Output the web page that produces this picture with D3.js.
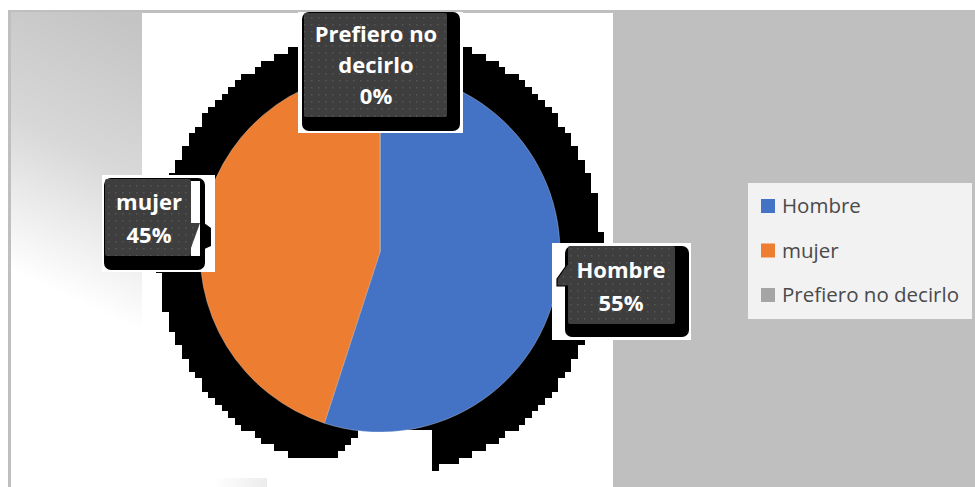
<!DOCTYPE html>
<html><head><meta charset="utf-8">
<script src="https://cdn.jsdelivr.net/npm/d3@7"></script>
<style>html,body{margin:0;padding:0;background:#fff;} svg{display:block}</style>
</head><body>
<svg id="chart" width="975" height="487"></svg>
<script>
// ---- data ----
const categories = ["Hombre", "mujer", "Prefiero no decirlo"];
const values = [55, 45, 0];
const colors = ["#4472c4", "#ed7d31", "#a5a5a5"];
const labelLines = [["Hombre"], ["mujer"], ["Prefiero no", "decirlo"]];

// ---- layout ----
const W = 975, H = 487;
const cx = 380, cy = 252, R = 180, shadowR = 222, cell = 6.6;
const svg = d3.select("#chart");
const defs = svg.append("defs");

const g1 = defs.append("linearGradient").attr("id","leftGrad")
  .attr("gradientUnits","userSpaceOnUse").attr("x1",130).attr("y1",20).attr("x2",0).attr("y2",300);
g1.append("stop").attr("offset",0).attr("stop-color","#c4c4c4");
g1.append("stop").attr("offset",0.45).attr("stop-color","#d8d8d8");
g1.append("stop").attr("offset",0.9).attr("stop-color","#ffffff");

const g2 = defs.append("linearGradient").attr("id","botGrad");
g2.append("stop").attr("offset",0).attr("stop-color","#ffffff");
g2.append("stop").attr("offset",1).attr("stop-color","#ececec");

const pat = defs.append("pattern").attr("id","dots").attr("width",7).attr("height",7)
  .attr("patternUnits","userSpaceOnUse");
pat.append("rect").attr("width",7).attr("height",7).attr("fill","#3e3e3e");
pat.append("rect").attr("x",3).attr("y",3).attr("width",1.5).attr("height",1.5).attr("fill","#555555");

// background panels
svg.append("rect").attr("x",8).attr("y",10).attr("width",W-8).attr("height",H-10).attr("fill","#bfbfbf");
svg.append("rect").attr("x",11).attr("y",12).attr("width",131).attr("height",H-12).attr("fill","url(#leftGrad)");
svg.append("rect").attr("x",142).attr("y",13).attr("width",471).attr("height",H-13).attr("fill","#ffffff");
svg.append("rect").attr("x",213).attr("y",478).attr("width",54).attr("height",9).attr("fill","url(#botGrad)");

// pixelated black shadow disk (single path, integer coordinates)
const n = Math.ceil(shadowR/cell);
let dpath = "";
d3.range(-n, n).forEach(i => {
  const y0 = Math.round(cy + i*cell), y1 = Math.round(cy + (i+1)*cell);
  const d = (y0 + y1)/2 - cy;
  if (Math.abs(d) >= shadowR) return;
  const w = Math.round(Math.sqrt(shadowR*shadowR - d*d)/cell)*cell;
  const x0 = Math.round(cx - w), x1 = Math.round(cx + w);
  dpath += `M${x0},${y0}H${x1}V${y1+1}H${x0}Z`;
});
svg.append("path").attr("d", dpath).attr("fill","#000").attr("shape-rendering","crispEdges");

// white cut-out below the pie
const cut = svg.append("g").attr("fill","#fff").attr("shape-rendering","crispEdges");
cut.append("rect").attr("x",cx-85).attr("y",cy+206).attr("width",137).attr("height",40);
[[cx-42,cy+199],[cx-35,cy+193],[cx-29,cy+186],[cx-22,cy+178]].forEach(([x,y]) =>
  cut.append("rect").attr("x",x).attr("y",y).attr("width",cx+52-x).attr("height",cy+210-y));

// pie
const pie = d3.pie().sort(null).value(d => d.v);
const arcs = pie(categories.map((c,i)=>({c, v: values[i], i})));
const arc = d3.arc().innerRadius(0).outerRadius(R);
svg.append("g").attr("transform",`translate(${cx},${cy})`)
  .selectAll("path").data(arcs).join("path")
  .attr("d", arc)
  .attr("fill", d => colors[d.data.i])
  .attr("stroke", d => d.data.v === 0 ? colors[d.data.i] : "#ffffff")
  .attr("stroke-width", d => d.data.v === 0 ? 1 : 0.5)
  .attr("stroke-opacity", d => d.data.v === 0 ? 0.9 : 0.6);

// callouts
const total = d3.sum(values);
const pct = d3.format(".0%");
const callouts = [
  {i:0, bg:[552,243,139,97], outer:[565,246,124,91], inner:[568,246,107,78], tx:621, ty:278, lh:33, ptr:"left"},
  {i:1, bg:[102,175,113,97], outer:[104,178,101,92], inner:[105,179,86,77], tx:149, ty:210, lh:33, ptr:"right"},
  {i:2, bg:[298,12,165,121], outer:[302,12,158,119], inner:[304,13,143,104], tx:376, ty:42, lh:31, ptr:null}
];
callouts.forEach(co => {
  const g = svg.append("g");
  g.append("rect").attr("x",co.bg[0]).attr("y",co.bg[1]).attr("width",co.bg[2]).attr("height",co.bg[3]).attr("fill","#fff");
  g.append("rect").attr("x",co.outer[0]).attr("y",co.outer[1]).attr("width",co.outer[2]).attr("height",co.outer[3])
    .attr("rx",7).attr("fill","#000");
  const [ix,iy,iw,ih] = co.inner;
  if (co.ptr === "right") {
    g.append("path").attr("d",`M${ix+iw+9},${iy+41} L${ix+iw+20},${iy+49} L${ix+iw+20},${iy+67} L${ix+iw+9},${iy+72} Z`).attr("fill","#000");
    g.append("rect").attr("x",ix+iw).attr("y",iy+2).attr("width",9).attr("height",ih-2).attr("fill","#fff");
    g.append("path").attr("d",`M${ix+iw},${iy+44} L${ix+iw+9},${iy+44} L${ix+iw},${iy+69} Z`).attr("fill","url(#dots)");
  }
  g.append("rect").attr("x",ix).attr("y",iy).attr("width",iw).attr("height",ih).attr("rx",2).attr("fill","url(#dots)");
  if (co.ptr === "left") {
    g.append("path").attr("d",`M${ix+1},${iy+16} L${ix-11},${iy+33} L${ix-11},${iy+40} L${ix+1},${iy+40} Z`)
      .attr("fill","url(#dots)").attr("stroke","#000").attr("stroke-width",1.2);
    g.append("rect").attr("x",ix).attr("y",iy+15).attr("width",3).attr("height",27).attr("fill","url(#dots)");
  }
  const lines = labelLines[co.i].concat([pct(values[co.i]/total)]);
  g.selectAll("text").data(lines).join("text")
    .attr("x",co.tx).attr("y",(d,k)=>co.ty + k*co.lh)
    .attr("text-anchor","middle")
    .attr("font-family","'Open Sans', sans-serif").attr("font-weight","bold").attr("font-size",22)
    .attr("fill","#ffffff").text(d=>d);
});

// legend
const lg = svg.append("g");
lg.append("rect").attr("x",748).attr("y",183).attr("width",224).attr("height",136).attr("fill","#f2f2f2");
const item = lg.selectAll("g.item").data(categories).join("g").attr("class","item")
  .attr("transform",(d,i)=>`translate(761,${213 + i*44.5})`);
item.append("rect").attr("x",0).attr("y",-14).attr("width",14).attr("height",14).attr("fill",(d,i)=>colors[i]);
item.append("text").attr("x",21).attr("y",0)
  .attr("font-family","'Open Sans', sans-serif").attr("font-size",20.5).attr("fill","#4a4a4a").text(d=>d);
</script>
</body></html>
